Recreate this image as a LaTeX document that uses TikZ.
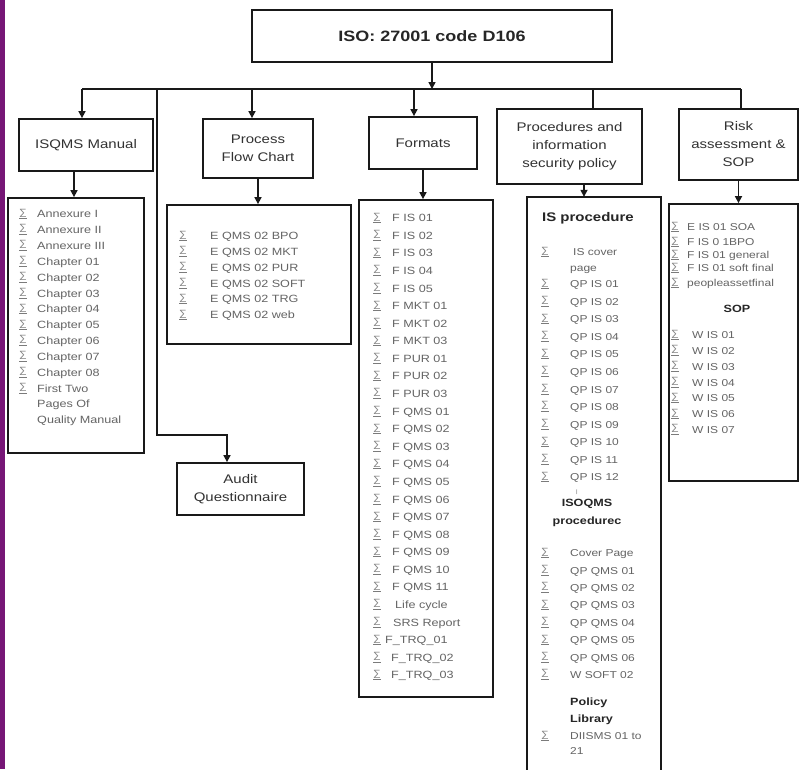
\documentclass[tikz,border=0pt]{standalone}
\usepackage{fontspec}
\setmainfont[FakeStretch=1.2]{Liberation Sans}
\usetikzlibrary{arrows.meta}
\definecolor{purp}{RGB}{118,22,118}
\definecolor{itemgray}{RGB}{100,100,100}
\definecolor{labgray}{RGB}{50,50,50}
\definecolor{linec}{RGB}{25,25,25}
\newcommand{\sigmk}{\underline{∑}}
\begin{document}
\begin{tikzpicture}[x=1pt,y=-1pt,
  box/.style={draw=linec,line width=1.8pt,inner sep=0pt},
  lbl/.style={box,text=labgray,font=\fontsize{12.5}{18}\selectfont,align=center},
  itm/.style={text=itemgray,font=\fontsize{10.5}{12}\selectfont,anchor=west,inner sep=0pt,text height=7.5pt,text depth=0pt},
  itms/.style={itm,font=\fontsize{10}{12}\selectfont},
  sig/.style={text=itemgray!85,font=\fontsize{9}{9}\selectfont,inner sep=0pt},
  hd/.style={text=black!85,font=\bfseries\fontsize{10.5}{13}\selectfont,inner sep=0pt,text height=8pt,text depth=0pt},
  conn/.style={draw=linec,line width=1.6pt},
  arr/.style={conn,-{Triangle[length=7pt,width=7pt]}},
]
\useasboundingbox (0,0) rectangle (801,769);
\fill[white] (0,0) rectangle (801,769);
\fill[purp] (0,0) rectangle (5,769);

% top box
\node[box,minimum width=360pt,minimum height=52pt,text=black!85,font=\bfseries\fontsize{15}{18}\selectfont] (top) at (432,36) {ISO: 27001 code D106};

% level-1 boxes
\node[lbl,minimum width=134pt,minimum height=52pt] (isqms) at (86,145) {ISQMS Manual};
\node[lbl,minimum width=110pt,minimum height=59pt] (proc) at (258,148.5) {Process\\Flow Chart};
\node[lbl,minimum width=108pt,minimum height=52pt] (fmt) at (423,143) {Formats};
\node[lbl,minimum width=145pt,minimum height=75pt] (procs) at (569.5,146.5) {Procedures and\\information\\security policy};
\node[lbl,minimum width=119pt,minimum height=71pt] (risk) at (738.5,144.5) {Risk\\assessment \&\\SOP};
\node[lbl,minimum width=127pt,minimum height=52pt] (audit) at (240.5,489) {Audit\\Questionnaire};

% list boxes
\node[box,minimum width=136pt,minimum height=255pt] (isqlist) at (76,325.5) {};
\node[box,minimum width=184pt,minimum height=139pt] (proclist) at (259,274.5) {};
\node[box,minimum width=134pt,minimum height=497pt] (fmtlist) at (426,448.5) {};
\node[inner sep=0pt,minimum width=134pt,minimum height=574pt] (plist) at (594,484) {};
\draw[draw=linec,line width=1.8pt] (plist.south west) -- (plist.north west) -- (plist.north east) -- (plist.south east);
\node[box,minimum width=129pt,minimum height=277pt] (rlist) at (733.5,342.5) {};

% bus and connectors
\coordinate (bL) at (82,89);
\coordinate (bR) at (741,89);
\coordinate (bA) at (157,89);
\coordinate (bP) at (252,89);
\coordinate (bF) at (414,89);
\coordinate (bPr) at (593,89);
\coordinate (aud) at (227,435);
\draw[arr] (top.south) -- (top.south |- bL);
\draw[conn] (bL) -- (bR);
\draw[arr] (bL) -- (bL |- isqms.north);
\draw[arr] (bA) |- (aud) -- (aud |- audit.north);
\draw[arr] (bP) -- (bP |- proc.north);
\draw[arr] (bF) -- (bF |- fmt.north);
\draw[conn] (bPr) -- (bPr |- procs.north);
\draw[conn] (bR) -- (bR |- risk.north);

\draw[arr] ([xshift=-12pt]isqms.south) -- ([xshift=-12pt]isqms.south |- isqlist.north);
\draw[arr] (proc.south) -- (proc.south |- proclist.north);
\draw[arr] (fmt.south) -- (fmt.south |- fmtlist.north);
\draw[arr] ([xshift=14.5pt]procs.south) -- ([xshift=14.5pt]procs.south |- plist.north);
\draw[arr] (risk.south) -- (risk.south |- rlist.north);

% ISQMS items
\foreach \t [count=\i from 0] in {Annexure I,Annexure II,Annexure III,Chapter 01,Chapter 02,Chapter 03,Chapter 04,Chapter 05,Chapter 06,Chapter 07,Chapter 08,First Two,Pages Of,Quality Manual}{
  \node[itm] (isq\i) at (37,{214+\i*15.85}) {\t};
}
\foreach \i in {0,...,11}{
  \node[sig] (isqs\i) at (23,{214+\i*15.85}) {\sigmk};
}

% Process items
\foreach \t [count=\i from 0] in {E QMS 02 BPO,E QMS 02 MKT,E QMS 02 PUR,E QMS 02 SOFT,E QMS 02 TRG,E QMS 02 web}{
  \node[itm] (pr\i) at (210,{236+\i*15.8}) {\t};
  \node[sig] (prs\i) at (183,{236+\i*15.8}) {\sigmk};
}

% Formats items
\foreach \xx/\t [count=\i from 0] in {392/F IS 01,392/F IS 02,392/F IS 03,392/F IS 04,392/F IS 05,392/F MKT 01,392/F MKT 02,392/F MKT 03,392/F PUR 01,392/F PUR 02,392/F PUR 03,392/F QMS 01,392/F QMS 02,392/F QMS 03,392/F QMS 04,392/F QMS 05,392/F QMS 06,392/F QMS 07,392/F QMS 08,392/F QMS 09,392/F QMS 10,392/F QMS 11,395/Life cycle,393/SRS Report,385/F\_TRQ\_01,391/F\_TRQ\_02,391/F\_TRQ\_03}{
  \node[itm] (fm\i) at (\xx,{218+\i*17.58}) {\t};
  \node[sig] (fms\i) at (377,{218+\i*17.58}) {\sigmk};
}

% Procedures items
\node[hd,font=\bfseries\fontsize{12.5}{14}\selectfont] (ish) at (588,217) {IS procedure};
\node[itms] (iscov) at (573,252) {IS cover};
\node[sig] (iscovs) at (545,252) {\sigmk};
\node[itms] (ispage) at (570,268) {page};
\foreach \i in {1,...,12}{
  \node[itms] (qpis\i) at (570,{284+(\i-1)*17.55}) {QP IS \ifnum\i<10 0\fi\i};
  \node[sig] (qpiss\i) at (545,{284+(\i-1)*17.55}) {\sigmk};
}
\node[text=itemgray,font=\fontsize{5}{5}\selectfont,inner sep=0pt] (tick) at (577,492) {|};
\node[hd] (isoq) at (587,502) {ISOQMS};
\node[hd] (isoq2) at (587,520) {procedurec};
\foreach \t [count=\i from 0] in {Cover Page,QP QMS 01,QP QMS 02,QP QMS 03,QP QMS 04,QP QMS 05,QP QMS 06,W SOFT 02}{
  \node[itms] (qm\i) at (570,{553+\i*17.4}) {\t};
  \node[sig] (qms\i) at (545,{553+\i*17.4}) {\sigmk};
}
\node[hd,anchor=west] (pol) at (570,701) {Policy};
\node[hd,anchor=west] (lib) at (570,718) {Library};
\node[itms] (dii) at (570,736) {DIISMS 01 to};
\node[sig] (diis) at (545,736) {\sigmk};
\node[itms] (dii2) at (570,751) {21};

% Risk items
\foreach \yy/\t [count=\i from 0] in {227/E IS 01 SOA,242/F IS 0 1BPO,255/F IS 01 general,268/F IS 01 soft final,283/peopleassetfinal}{
  \node[itms] (rk\i) at (687,\yy) {\t};
  \node[sig] (rks\i) at (675,\yy) {\sigmk};
}
\node[hd] (sop) at (737,308) {SOP};
\foreach \i in {1,...,7}{
  \node[itms] (wis\i) at (692,{335+(\i-1)*15.8}) {W IS 0\i};
  \node[sig] (wiss\i) at (675,{335+(\i-1)*15.8}) {\sigmk};
}
\end{tikzpicture}
\end{document}
